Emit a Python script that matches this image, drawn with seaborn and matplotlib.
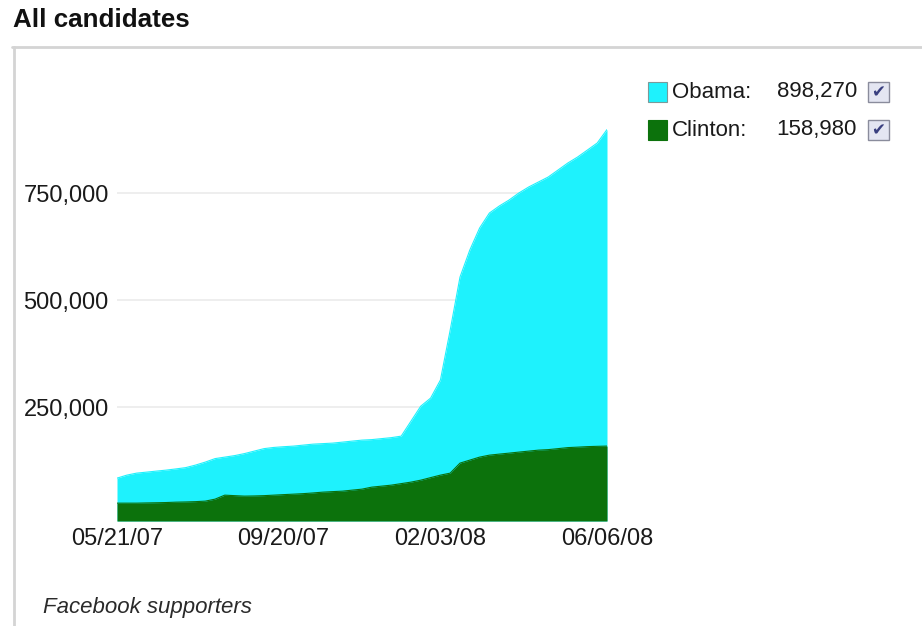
import matplotlib
matplotlib.use("Agg")
import matplotlib.pyplot as plt
from matplotlib.patches import Rectangle
from matplotlib.lines import Line2D
from matplotlib.ticker import FuncFormatter
import numpy as np
import pandas as pd
import seaborn as sns

# Facebook supporters, sampled at evenly spaced points of the timeline
obama = [84100, 91100, 95800, 98100, 100500, 102800, 105600, 108600, 114500, 121500,
         129700, 133200, 136700, 141400, 147200, 153000, 155800, 157500, 158900, 161200,
         163500, 164700, 165900, 168200, 170600, 172900, 174100, 176400, 178700, 182200,
         217300, 252300, 271000, 313100, 429900, 553700, 616800, 668200, 703300, 719600,
         733600, 750000, 764000, 775700, 787400, 803700, 820100, 834100, 850400, 866800,
         898270]
clinton = [25700, 25700, 25700, 26200, 26600, 27100, 28000, 28500, 29200, 30400,
           35000, 44400, 43200, 42100, 42500, 43200, 44400, 45600, 46700, 47900,
           49500, 51400, 52600, 53700, 56100, 58400, 63100, 65400, 67800, 71300,
           74800, 79400, 85300, 91100, 95800, 119200, 126200, 133200, 137800, 140200,
           142500, 144900, 147200, 149500, 150700, 153000, 155400, 156500, 157700, 158400,
           158980]
date_ticks = [0, 17, 33, 50]
date_labels = ["05/21/07", "09/20/07", "02/03/08", "06/06/08"]
y_ticks = [250000, 500000, 750000]
series_names = ["Obama", "Clinton"]
series_colors = ["#1ef2fd", "#0c720c"]

df = pd.DataFrame({"sample": np.arange(len(obama)), "Obama": obama, "Clinton": clinton})

sns.set_style("white")
plt.rcParams["font.family"] = ["Liberation Sans", "DejaVu Sans"]

W, H = 922, 626
fig = plt.figure(figsize=(W / 100, H / 100), dpi=100)


def fx(x):
    return x / W


def fy(y):
    return 1 - y / H


y_lo, y_hi = -16000, 950000
ax_top_px = 514 - y_hi * 4.28e-4
ax = fig.add_axes([fx(117), fy(521), (607 - 117) / W, (521 - ax_top_px) / H])
ax.set_xlim(0, len(obama) - 1)
ax.set_ylim(y_lo, y_hi)

for yv in y_ticks:
    ax.axhline(yv, color="#ebebeb", lw=1.2, zorder=0)

# Overlapping (not stacked) areas: Obama behind, Clinton in front
ax.fill_between(df["sample"], y_lo, df["Obama"], color=series_colors[0], lw=0, zorder=1)
sns.lineplot(data=df, x="sample", y="Obama", color=series_colors[0], lw=0.8, ax=ax, zorder=2)
ax.fill_between(df["sample"], y_lo, df["Clinton"], color=series_colors[1], lw=0, zorder=3)
sns.lineplot(data=df, x="sample", y="Clinton", color=series_colors[1], lw=0.8, ax=ax, zorder=4)

ax.set_xlabel("")
ax.set_ylabel("")
ax.set_xticks(date_ticks)
ax.set_xticklabels(date_labels)
ax.set_yticks(y_ticks)
ax.yaxis.set_major_formatter(FuncFormatter(lambda v, p: f"{int(v):,}"))
ax.tick_params(axis="both", length=0, labelsize=17, colors="#1a1a1a")
ax.tick_params(axis="x", pad=5)
ax.tick_params(axis="y", pad=6)
for s in ax.spines.values():
    s.set_visible(False)

# Panel frame (top and left edges)
fig.add_artist(Line2D([fx(12), fx(922)], [fy(47), fy(47)], color="#d4d4d4", lw=2,
                      transform=fig.transFigure))
fig.add_artist(Line2D([fx(14), fx(14)], [fy(47), fy(626)], color="#d4d4d4", lw=2,
                      transform=fig.transFigure))

fig.text(fx(13), fy(20), "All candidates", fontsize=18.7, fontweight="bold",
         color="#111111", ha="left", va="center")
fig.text(fx(43), fy(607), "Facebook supporters", fontsize=16, fontstyle="italic",
         color="#2a2a2a", ha="left", va="center")

# Legend with current totals and check boxes
totals = [obama[-1], clinton[-1]]
for i, (name, col, tot) in enumerate(zip(series_names, series_colors, totals)):
    yc = 92 + i * 38
    fig.add_artist(Rectangle((fx(648), fy(yc + 10)), 19 / W, 20 / H, facecolor=col,
                             edgecolor="#7a9a9a" if i == 0 else col, lw=0.8,
                             transform=fig.transFigure))
    fig.text(fx(672), fy(yc), f"{name}:", fontsize=16, color="#1a1a1a",
             ha="left", va="center")
    fig.text(fx(857), fy(yc), f"{tot:,}", fontsize=16, color="#1a1a1a",
             ha="right", va="center")
    fig.add_artist(Rectangle((fx(868), fy(yc + 10)), 21 / W, 20 / H, facecolor="#e4e6f2",
                             edgecolor="#8a8c9c", lw=1.0, transform=fig.transFigure))
    fig.text(fx(878.5), fy(yc + 0.5), "\u2714", fontsize=12, color="#3a4080",
             ha="center", va="center", family=["DejaVu Sans"])

fig.savefig("out.png", dpi=100)
